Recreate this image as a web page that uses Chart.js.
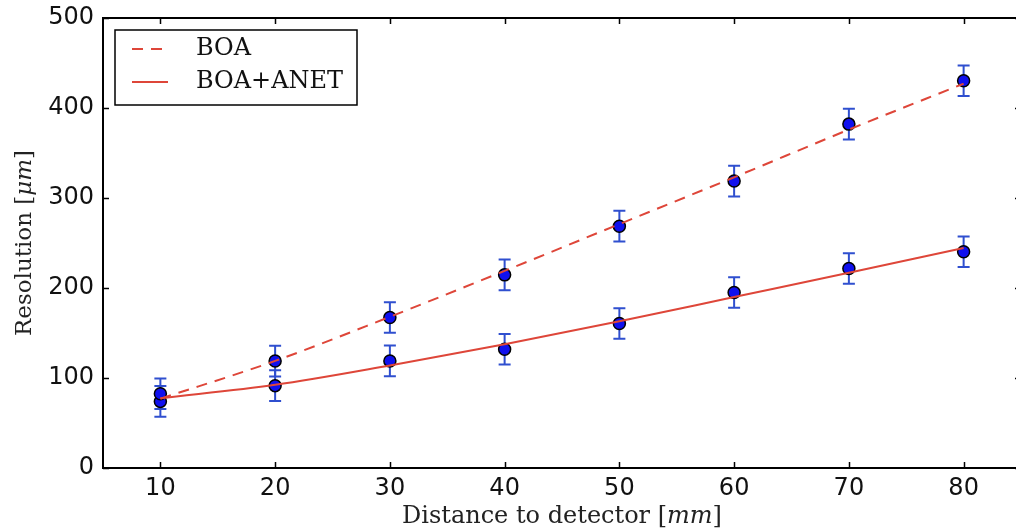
<!DOCTYPE html>
<html>
<head>
<meta charset="utf-8">
<script src="https://cdn.jsdelivr.net/npm/chart.js@4.4.1/dist/chart.umd.min.js"></script>
<style>
  html, body { margin: 0; padding: 0; background: #fff; overflow: hidden; }
  #wrap { position: relative; width: 1030px; height: 532px; }
</style>
</head>
<body>
<div id="wrap"><canvas id="chart" width="1030" height="532"></canvas></div>
<script>
// ─── Data ─────────────────────────────────────────────────────────────────────
const distances = [10, 20, 30, 40, 50, 60, 70, 80];
const boaRes    = [82.5, 118.8, 167.2, 214.6, 268.7, 318.8, 382.1, 430.3];
const boaErr    = [17, 17, 17, 17, 17, 17, 17, 17];
const anetRes   = [74, 91.5, 119, 132, 160.5, 195, 221.7, 240.2];
const anetErr   = [17, 17, 17, 17, 17, 17, 17, 17];
const boaFit    = [77, 119, 168, 219, 271, 323, 376, 427];
const anetFit   = [77.5, 92.5, 114, 137.5, 163, 190, 217, 244.5];
const xTicks    = [10, 20, 30, 40, 50, 60, 70, 80];
const yTicks    = [0, 100, 200, 300, 400, 500];

const RED = '#de4639';
const BLUE = '#2f4fcf';
const SERIF = '"DejaVu Serif", serif';

const pts = (xs, ys) => xs.map((x, i) => ({ x, y: ys[i] }));

// ─── Error bars, under the markers ────────────────────────────────────────────
const errorBars = {
  id: 'errorBars',
  beforeDatasetsDraw(chart) {
    const { ctx, scales: { x, y } } = chart;
    ctx.save();
    ctx.strokeStyle = BLUE;
    ctx.lineWidth = 2;
    chart.data.datasets.forEach(ds => {
      if (!ds.errors) return;
      ds.data.forEach((p, i) => {
        const px = x.getPixelForValue(p.x);
        const top = y.getPixelForValue(p.y + ds.errors[i]);
        const bot = y.getPixelForValue(p.y - ds.errors[i]);
        ctx.beginPath();
        ctx.moveTo(px, top); ctx.lineTo(px, bot);
        ctx.moveTo(px - 6, top); ctx.lineTo(px + 6, top);
        ctx.moveTo(px - 6, bot); ctx.lineTo(px + 6, bot);
        ctx.stroke();
      });
    });
    ctx.restore();
  }
};

// ─── Frame, inward ticks, axis titles, legend ─────────────────────────────────
const frame = {
  id: 'frame',
  afterDatasetsDraw(chart) {
    const { ctx, chartArea: a, scales: { x, y } } = chart;
    ctx.save();
    ctx.strokeStyle = '#000';
    ctx.lineWidth = 1.5;
    ctx.beginPath();
    yTicks.forEach(v => {
      const py = Math.round(y.getPixelForValue(v)) + 0.5;
      ctx.moveTo(a.left, py); ctx.lineTo(a.left + 6, py);
      ctx.moveTo(a.right, py); ctx.lineTo(a.right - 6, py);
    });
    xTicks.forEach(v => {
      const px = Math.round(x.getPixelForValue(v)) + 0.5;
      ctx.moveTo(px, a.bottom); ctx.lineTo(px, a.bottom - 6);
      ctx.moveTo(px, a.top); ctx.lineTo(px, a.top + 6);
    });
    ctx.stroke();
    ctx.lineWidth = 2;
    ctx.strokeRect(a.left, a.top, a.right - a.left, a.bottom - a.top);

    // axis titles with italic units
    const drawParts = (parts, cx, cy) => {
      let w = 0;
      parts.forEach(p => { ctx.font = p.font; w += ctx.measureText(p.t).width; });
      let cur = cx - w / 2;
      parts.forEach(p => { ctx.font = p.font; ctx.fillText(p.t, cur, cy); cur += ctx.measureText(p.t).width; });
    };
    ctx.fillStyle = '#222';
    ctx.textBaseline = 'alphabetic';
    ctx.textAlign = 'left';
    drawParts([
      { t: 'Distance to detector [', font: `24px ${SERIF}` },
      { t: 'mm', font: `italic 24px ${SERIF}` },
      { t: ']', font: `24px ${SERIF}` }
    ], (a.left + a.right) / 2, 523);
    ctx.save();
    ctx.translate(31, (a.top + a.bottom) / 2);
    ctx.rotate(-Math.PI / 2);
    drawParts([
      { t: 'Resolution [', font: `23px ${SERIF}` },
      { t: 'μm', font: `italic 23px ${SERIF}` },
      { t: ']', font: `23px ${SERIF}` }
    ], 0, 0);
    ctx.restore();

    // legend box
    const lx = a.left + 12, ly = a.top + 12;
    ctx.fillStyle = '#fff';
    ctx.fillRect(lx, ly, 242, 75);
    ctx.lineWidth = 1.5;
    ctx.strokeStyle = '#000';
    ctx.strokeRect(lx, ly, 242, 75);
    const entries = chart.data.datasets.filter(ds => ds.inLegend);
    entries.forEach((ds, i) => {
      const yy = ly + 19 + i * 33;
      ctx.strokeStyle = ds.borderColor;
      ctx.lineWidth = 2;
      ctx.setLineDash(ds.borderDash || []);
      ctx.beginPath();
      ctx.moveTo(lx + 17, yy); ctx.lineTo(lx + 53, yy);
      ctx.stroke();
      ctx.setLineDash([]);
      ctx.fillStyle = '#111';
      ctx.font = `24px ${SERIF}`;
      ctx.textBaseline = 'middle';
      ctx.fillText(ds.label, lx + 81, yy);
    });
    ctx.restore();
  }
};

new Chart(document.getElementById('chart'), {
  type: 'scatter',
  data: {
    datasets: [
      {
        type: 'line', label: 'BOA', inLegend: true, order: 0,
        data: pts(distances, boaFit),
        borderColor: RED, borderWidth: 2, borderDash: [11, 8],
        pointRadius: 0, fill: false, cubicInterpolationMode: 'monotone'
      },
      {
        type: 'line', label: 'BOA+ANET', inLegend: true, order: 0,
        data: pts(distances, anetFit),
        borderColor: RED, borderWidth: 2,
        pointRadius: 0, fill: false, cubicInterpolationMode: 'monotone'
      },
      {
        label: 'BOA data', order: 1, errors: boaErr,
        data: pts(distances, boaRes),
        pointRadius: 6, pointBackgroundColor: '#1010ee', pointBorderColor: '#000', pointBorderWidth: 1.5
      },
      {
        label: 'BOA+ANET data', order: 1, errors: anetErr,
        data: pts(distances, anetRes),
        pointRadius: 6, pointBackgroundColor: '#1010ee', pointBorderColor: '#000', pointBorderWidth: 1.5
      }
    ]
  },
  options: {
    responsive: false,
    animation: false,
    layout: { padding: { left: 0, top: 18, right: 9, bottom: 0 } },
    plugins: { legend: { display: false }, tooltip: { enabled: false } },
    scales: {
      x: {
        type: 'linear', min: 5, max: 85,
        grid: { display: false, drawTicks: false }, border: { display: false },
        afterBuildTicks: s => { s.ticks = xTicks.map(v => ({ value: v })); },
        afterFit: s => { s.height = 64; s.paddingLeft = 0; s.paddingRight = 0; },
        ticks: { color: '#111', padding: 6, font: { family: '"DejaVu Sans"', size: 24 } }
      },
      y: {
        type: 'linear', min: 0, max: 500,
        grid: { display: false, drawTicks: false }, border: { display: false },
        afterBuildTicks: s => { s.ticks = yTicks.map(v => ({ value: v })); },
        afterFit: s => { s.width = 103; s.paddingTop = 0; s.paddingBottom = 0; },
        ticks: { color: '#111', padding: 9, font: { family: '"DejaVu Sans"', size: 24 } }
      }
    }
  },
  plugins: [errorBars, frame]
});
</script>
</body>
</html>
